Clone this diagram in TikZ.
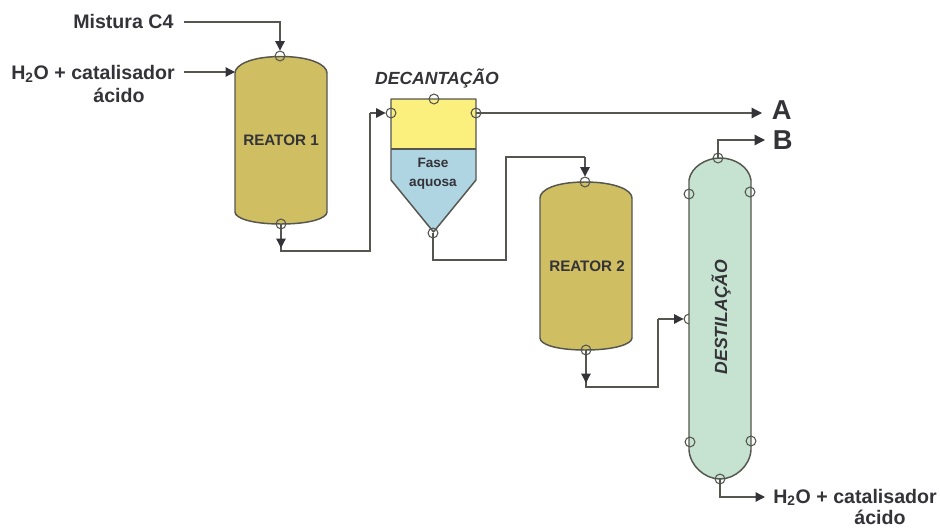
\documentclass[tikz,border=0pt]{standalone}
\usepackage{fontspec}
\setmainfont{Liberation Sans}
\usetikzlibrary{arrows.meta}
\definecolor{reac}{HTML}{CFBF62}
\definecolor{yel}{HTML}{FBEF7E}
\definecolor{blu}{HTML}{AFD4E2}
\definecolor{grn}{HTML}{C6E3D2}
\definecolor{ink}{HTML}{333338}
\definecolor{edge}{HTML}{55564F}
\tikzset{
  vessel/.style={draw=edge,line width=1.1pt,line join=round},
  noz/.style={circle,draw=edge,line width=.8pt,minimum size=7.4pt,inner sep=0pt},
  conn/.style={draw=edge,line width=.95pt,line join=miter},
  arr/.style={conn,-{Triangle[length=7pt,width=7pt,color=ink]}},
  arrbig/.style={conn,-{Triangle[length=7.8pt,width=7.8pt,color=ink]}},
  lab/.style={font=\fontsize{14.7}{18}\selectfont\bfseries,text=ink,inner sep=0pt},
  big/.style={font=\fontsize{20.5}{24}\selectfont\bfseries,text=ink,inner sep=0pt},
  vlab/.style={font=\fontsize{11.4}{14}\selectfont\bfseries,text=ink,inner sep=0pt,align=center},
  ilab/.style={font=\fontsize{13.2}{16}\selectfont\bfseries\itshape,text=ink,inner sep=0pt}
}
\begin{document}
\begin{tikzpicture}[x=0.75pt,y=-0.75pt]
\useasboundingbox (0,0) rectangle (940,528);
% Feed nozzle sits behind the column
\node[noz] (colf) at (689,319) {};
% Reactor 1
\path[vessel,fill=reac] (235,212) -- (235,73) .. controls (235,65) and (251,56.5) .. (281,56.5) .. controls (311,56.5) and (327,65) .. (327,73) -- (327,212) .. controls (327,218) and (311,224) .. (281,224) .. controls (251,224) and (235,218) .. (235,212) -- cycle;
% Reactor 2
\path[vessel,fill=reac] (540,338) -- (540,198) .. controls (540,190) and (555,182) .. (585,182) .. controls (615,182) and (632,190) .. (632,198) -- (632,338) .. controls (632,344) and (615,350) .. (585,350) .. controls (555,350) and (540,344) .. (540,338) -- cycle;
% Decanter
\path[fill=yel] (391,99) rectangle (476,149);
\path[fill=blu] (391,149) -- (476,149) -- (476,180) -- (433.5,232) -- (391,180) -- cycle;
\path[vessel] (391,99) -- (476,99) -- (476,180) -- (433.5,232) -- (391,180) -- cycle;
\path[vessel] (391,149) -- (476,149);
% Column
\path[vessel,fill=grn] (689,450) -- (689,180) .. controls (691,167) and (706,158) .. (720,158) .. controls (735,158) and (749,167) .. (751,180) -- (751,450) .. controls (750,466) and (735,479) .. (720,479) .. controls (705,479) and (690,466) .. (689,450) -- cycle;
% Nozzles
\node[noz] (r1t) at (280,56) {};
\node[noz] (r1b) at (281,224) {};
\node[noz] (dect) at (434,99) {};
\node[noz] (decl) at (391,113) {};
\node[noz] (decr) at (476,113) {};
\node[noz] (decb) at (433,233) {};
\node[noz] (r2t) at (585,182) {};
\node[noz] (r2b) at (586,350) {};
\node[noz] (colt) at (718,158) {};
\node[noz] (coll) at (689,194) {};
\node[noz] (colr) at (750,192) {};
\node[noz] (colll) at (690,442) {};
\node[noz] (collr) at (751,441) {};
\node[noz] (colb) at (720,479) {};
% Text
\node[lab,anchor=base west] (mix) at (73,29) {Mistura C4};
\node[lab,anchor=base west] (cat1) at (11,80) {H\textsubscript{2}O + catalisador};
\node[lab,anchor=base] (cat1b) at (119,103) {ácido};
\node[lab,anchor=base west] (cat2) at (773,503) {H\textsubscript{2}O + catalisador};
\node[lab,anchor=base] (cat2b) at (880,524) {ácido};
\node[big,anchor=base west] (A) at (771.5,120) {A};
\node[big,anchor=base west] (B) at (772.5,150) {B};
\node[vlab] (t1) at (281,140) {REATOR 1};
\node[vlab] (t2) at (587,266) {REATOR 2};
\node[vlab,font=\fontsize{10.2}{14.2}\selectfont\bfseries] (fa) at (433,174) {Fase\\aquosa};
\node[ilab] (dt) at (437,78) {DECANTAÇÃO};
\node[ilab,rotate=90] (dl) at (721,317) {DESTILAÇÃO};
% Connector waypoints
\coordinate (a1) at (184,22);
\coordinate (a2) at (280,22);
\coordinate (b1) at (184,72);
\coordinate (b2) at (235,72);
\coordinate (c1) at (281,251);
\coordinate (c1a) at (281,248);
\coordinate (c2) at (370,251);
\coordinate (c3) at (370,113);
\coordinate (d1) at (433,260);
\coordinate (d2) at (506,260);
\coordinate (d3) at (506,157);
\coordinate (d4) at (585,157);
\coordinate (e1) at (586,387);
\coordinate (e1a) at (586,383);
\coordinate (e2) at (658,387);
\coordinate (e3) at (658,319);
\coordinate (f1) at (762,113);
\coordinate (g1) at (718,140);
\coordinate (g2) at (765,140);
\coordinate (h1) at (720,497);
\coordinate (h2) at (765,497);
% Connectors
\draw[arr] (a1) -- (a2) -- (r1t.north);
\draw[arr] (b1) -- (b2);
\draw[conn] (r1b.center) -- (c1) -- (c2) -- (c3);
\draw[arr] (r1b.center) -- (c1a);
\draw[arr] (c3) -- (decl.west);
\draw[conn] (decb.center) -- (d1) -- (d2) -- (d3) -- (d4);
\draw[arr] (d4) -- (r2t.north);
\draw[conn] (r2b.center) -- (e1) -- (e2) -- (e3);
\draw[arr] (r2b.center) -- (e1a);
\draw[arr] (e3) -- (colf.west);
\draw[arrbig] (decr.center) -- (f1);
\draw[arrbig] (colt.center) -- (g1) -- (g2);
\draw[arr] (colb.center) -- (h1) -- (h2);
\end{tikzpicture}
\end{document}
